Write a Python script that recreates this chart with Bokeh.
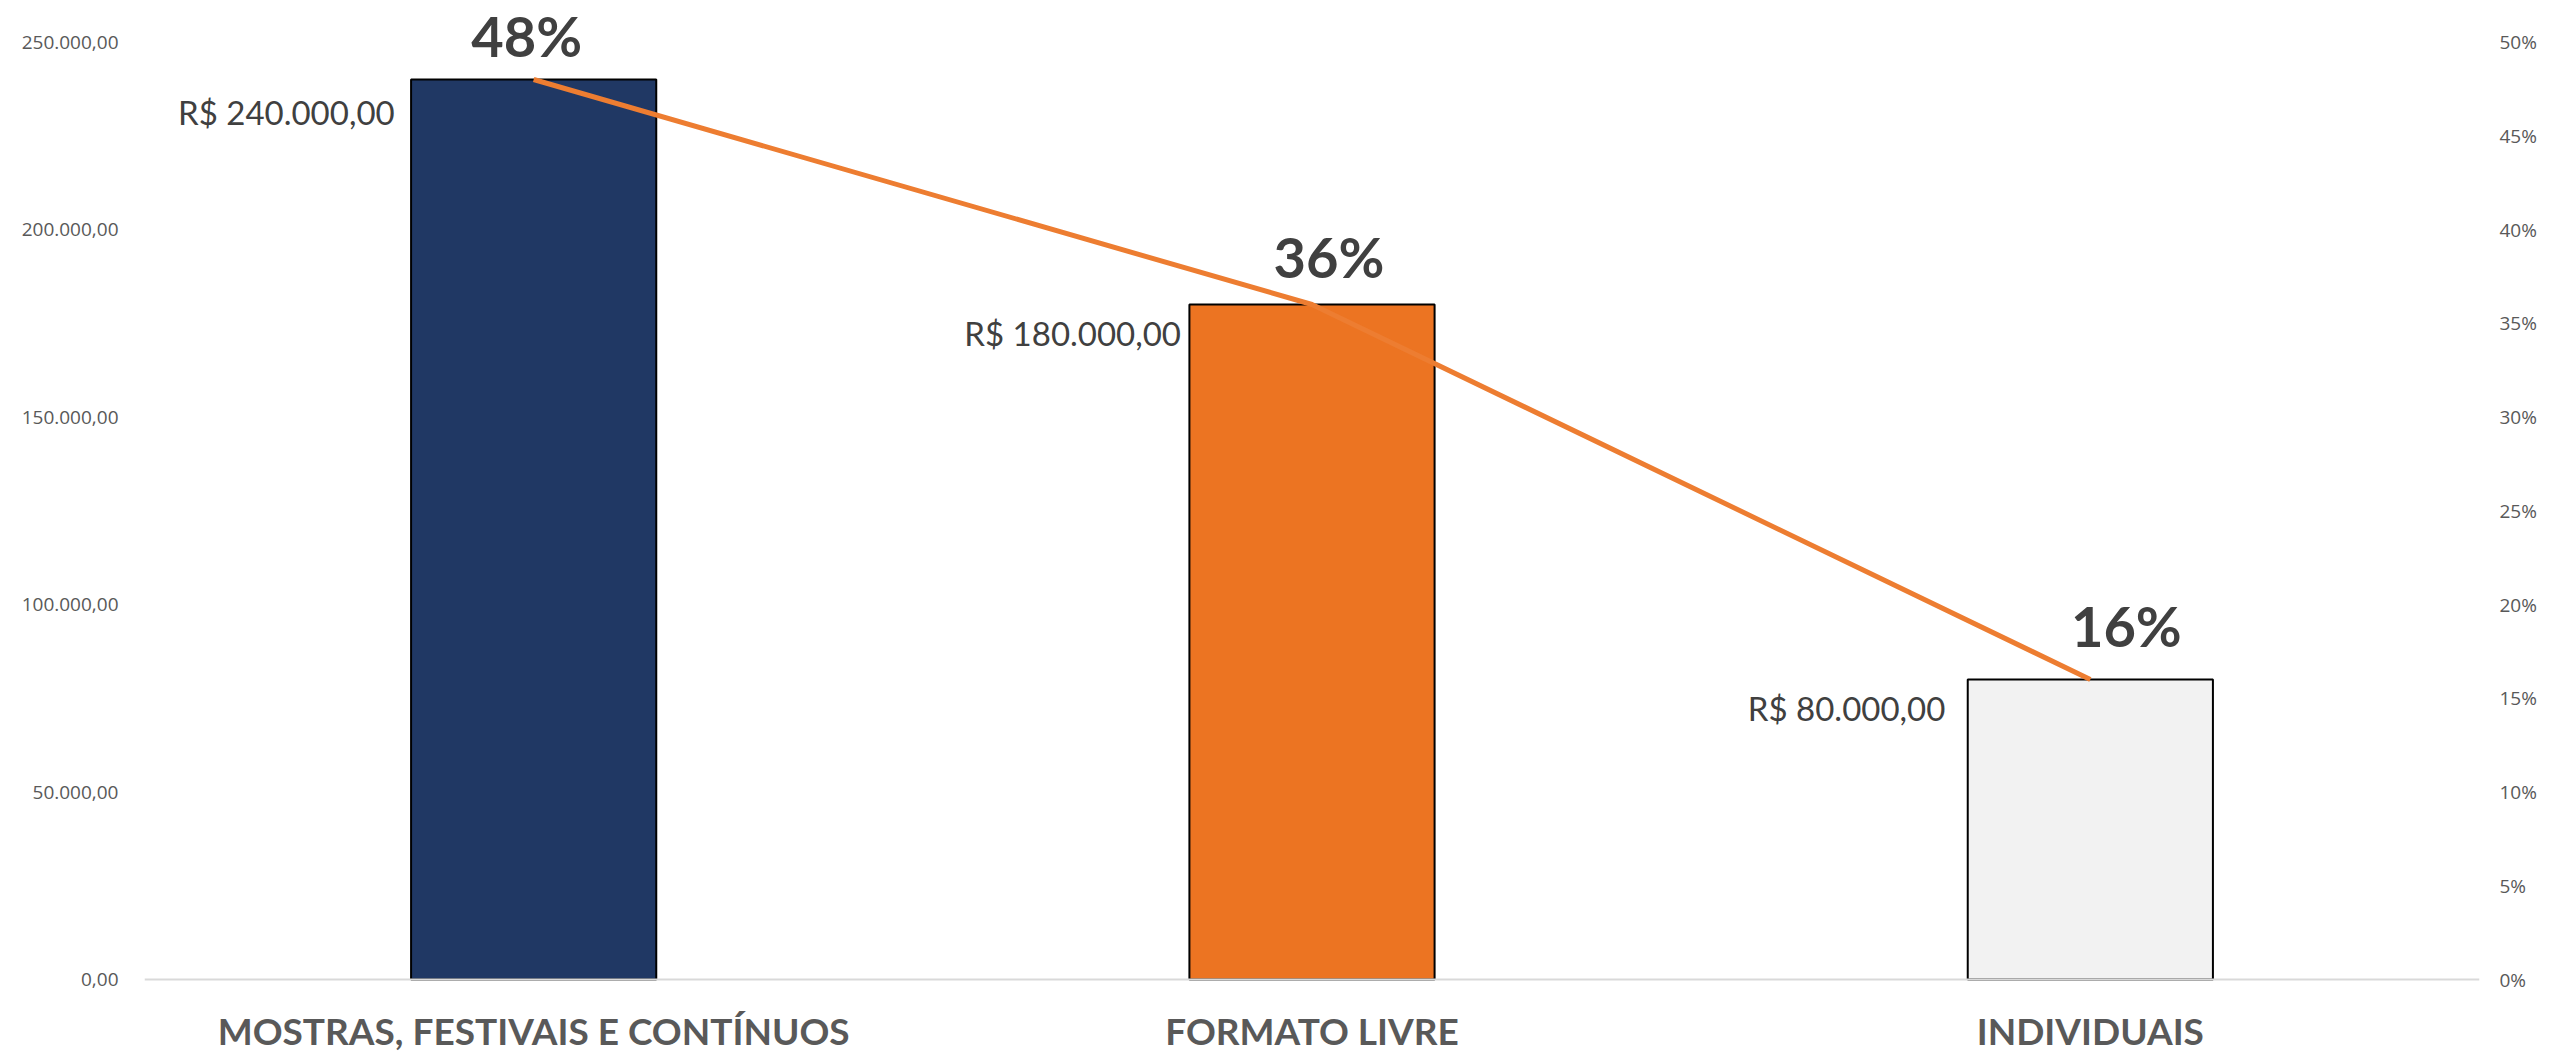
from bokeh.plotting import figure
from bokeh.models import (FactorRange, Range1d, LinearAxis, FixedTicker,
                          NumeralTickFormatter, ColumnDataSource, Span)
from bokeh.core.properties import value
from bokeh.embed import file_html
from bokeh.resources import INLINE

# ---- data ----
categories = ["MOSTRAS, FESTIVAIS E CONTÍNUOS", "FORMATO LIVRE", "INDIVIDUAIS"]
amounts = [240000, 180000, 80000]
shares = [0.48, 0.36, 0.16]
amount_labels = ["R$ 240.000,00", "R$ 180.000,00", "R$ 80.000,00"]
share_labels = ["48%", "36%", "16%"]
bar_colors = ["#203864", "#EC7422", "#F2F2F2"]
left_ticks = [0, 50000, 100000, 150000, 200000, 250000]
left_tick_labels = ["0,00", "50.000,00", "100.000,00", "150.000,00", "200.000,00", "250.000,00"]
right_ticks = [0.0, 0.05, 0.10, 0.15, 0.20, 0.25, 0.30, 0.35, 0.40, 0.45, 0.50]

# ---- style / layout ----
W, H = 2549, 1054
border_left, border_right = 144, 70
frame_h = H
px_top_to_zero = 979.0      # frame top -> value 0 (screen px)
px_for_axis_max = 937.5     # value 0 -> 250.000 (screen px)
k = 250000 / px_for_axis_max
y_start = -(frame_h - px_top_to_zero) * k
y_end = px_top_to_zero * k
kp = 0.5 / px_for_axis_max
p_start = -(frame_h - px_top_to_zero) * kp
p_end = px_top_to_zero * kp

share_dx = [-7, 17, 36]
share_dy = [-44, -48, -54]
amount_dx = [-139, -131, -145]
amount_dy = [32, 28, 28]
cat_dy = 51

p = figure(width=W, height=H, x_range=FactorRange(factors=categories, range_padding=0),
           y_range=Range1d(y_start, y_end), output_backend="svg", toolbar_location=None,
           title=None, min_border_left=border_left, min_border_right=border_right,
           min_border_top=0, min_border_bottom=0)
p.extra_y_ranges = {"pct": Range1d(p_start, p_end)}
p.outline_line_color = None
p.background_fill_color = "white"
p.border_fill_color = "white"
p.xgrid.visible = False
p.ygrid.visible = False
p.xaxis.visible = False

src = ColumnDataSource(dict(cat=categories, amt=amounts, pct=shares, zero=[0, 0, 0],
                            amt_lab=amount_labels, pct_lab=share_labels,
                            color=bar_colors, sdx=share_dx, sdy=share_dy,
                            adx=amount_dx, ady=amount_dy))

# baseline (category axis line)
p.add_layout(Span(location=0, dimension="width", line_color="#D9D9D9", line_width=2))

p.vbar(x="cat", top="amt", width=0.315, source=src, fill_color="color",
       line_color="#000000", line_width=2)

p.line(x="cat", y="pct", source=src, y_range_name="pct", line_color="#ED7D31",
       line_width=5)

p.text(x="cat", y="pct", text="pct_lab", source=src, y_range_name="pct",
       x_offset="sdx", y_offset="sdy", text_align="center", text_baseline="middle",
       text_font=value("Lato"), text_font_style="bold", text_font_size="56px",
       text_color="#404040")

p.text(x="cat", y="amt", text="amt_lab", source=src,
       x_offset="adx", y_offset="ady", text_align="right", text_baseline="middle",
       text_font=value("Lato"), text_font_size="33px", text_color="#404040")

# category labels
p.text(x="cat", y="zero", text="cat", source=src, y_offset=cat_dy,
       text_align="center", text_baseline="middle",
       text_font=value("Lato"), text_font_style="bold", text_font_size="37px",
       text_color="#595959")

# left axis
ya = p.yaxis[0]
ya.ticker = FixedTicker(ticks=left_ticks)
ya.major_label_overrides = {t: l for t, l in zip(left_ticks, left_tick_labels)}
ya.axis_line_color = None
ya.major_tick_line_color = None
ya.minor_tick_line_color = None
ya.major_label_standoff = 20
ya.major_label_text_font = "Open Sans"
ya.major_label_text_font_size = "19px"
ya.major_label_text_color = "#595959"

# right axis
ra = LinearAxis(y_range_name="pct", ticker=FixedTicker(ticks=right_ticks),
                formatter=NumeralTickFormatter(format="0%"))
ra.axis_line_color = None
ra.major_tick_line_color = None
ra.minor_tick_line_color = None
ra.major_label_standoff = 14
ra.major_label_text_font = "Open Sans"
ra.major_label_text_font_size = "19px"
ra.major_label_text_color = "#595959"
p.add_layout(ra, "right")

open("out.html", "w").write(file_html(p, INLINE))
